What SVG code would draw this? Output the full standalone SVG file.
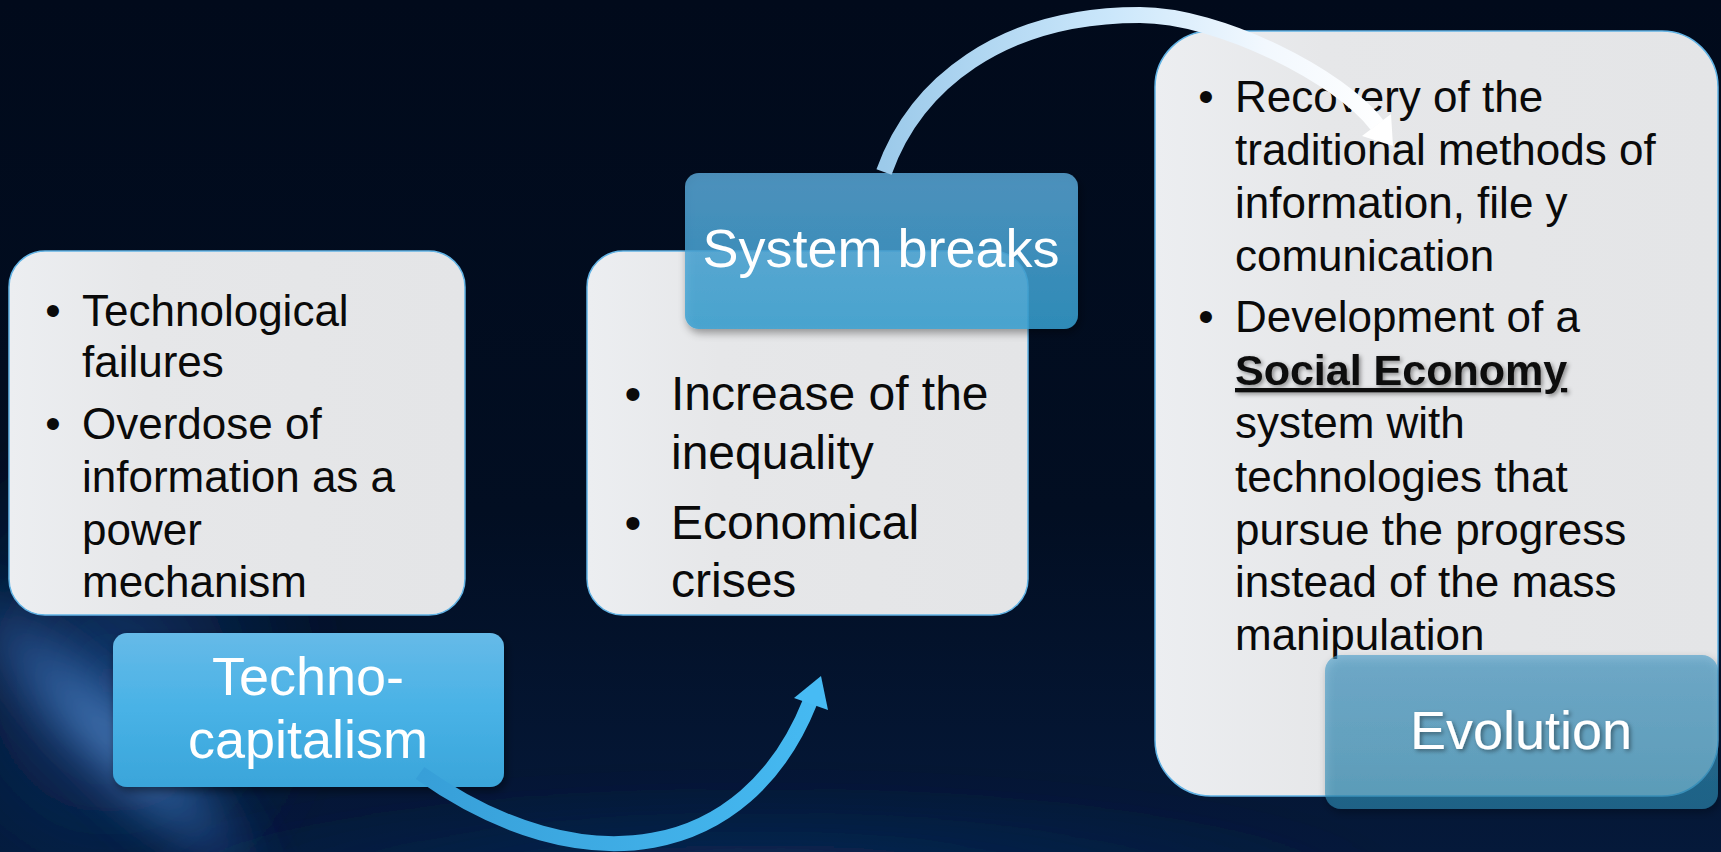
<svg xmlns="http://www.w3.org/2000/svg" width="1721" height="852" viewBox="0 0 1721 852">
<style>
.card{fill:url(#cardFill);stroke:#62b4e6;stroke-width:1.5}
.body{font-family:"Liberation Sans",Arial,sans-serif;fill:#0a0a0a}
.b44{font-size:44px}
.b48{font-size:48px}
.lbl{font-family:"Liberation Sans",Arial,sans-serif;font-size:54px;fill:#ffffff;text-anchor:middle}
.bul{text-anchor:middle}
</style>
<defs>
<linearGradient id="bg" x1="0" y1="0" x2="0" y2="1">
<stop offset="0" stop-color="#010a1b"/>
<stop offset="0.6" stop-color="#020e22"/>
<stop offset="1" stop-color="#05193a"/>
</linearGradient>
<radialGradient id="glow" cx="0.5" cy="0.5" r="0.5">
<stop offset="0" stop-color="#5a90d0" stop-opacity="0.85"/>
<stop offset="0.5" stop-color="#2d5fa3" stop-opacity="0.55"/>
<stop offset="1" stop-color="#0a2550" stop-opacity="0"/>
</radialGradient>
<radialGradient id="glow2" cx="0.5" cy="0.5" r="0.5">
<stop offset="0" stop-color="#163f7a" stop-opacity="0.85"/>
<stop offset="1" stop-color="#0a2550" stop-opacity="0"/>
</radialGradient>
<radialGradient id="glow3" cx="0.5" cy="0.5" r="0.5">
<stop offset="0" stop-color="#0e2f60" stop-opacity="0.8"/>
<stop offset="1" stop-color="#0a2550" stop-opacity="0"/>
</radialGradient>
<filter id="blur" x="-50%" y="-50%" width="200%" height="200%"><feGaussianBlur stdDeviation="18"/></filter>
<filter id="shadow" x="-10%" y="-10%" width="130%" height="140%"><feDropShadow dx="2" dy="4" stdDeviation="4" flood-color="#000" flood-opacity="0.45"/></filter>
<filter id="tshadow" x="-10%" y="-20%" width="130%" height="150%"><feDropShadow dx="2" dy="2" stdDeviation="2" flood-color="#000" flood-opacity="0.4"/></filter>
<linearGradient id="cardFill" x1="0" y1="0" x2="1" y2="0">
<stop offset="0" stop-color="#eceef1"/>
<stop offset="0.3" stop-color="#e6e7e9"/>
<stop offset="1" stop-color="#e4e5e7"/>
</linearGradient>
<linearGradient id="technoFill" x1="0" y1="0" x2="0" y2="1">
<stop offset="0" stop-color="#66bae8"/>
<stop offset="0.5" stop-color="#48b2e6"/>
<stop offset="1" stop-color="#3aa5da"/>
</linearGradient>
<linearGradient id="sysFill" x1="0" y1="0" x2="0" y2="1">
<stop offset="0" stop-color="#5aa8d8"/>
<stop offset="1" stop-color="#36a0d2"/>
</linearGradient>
<linearGradient id="evoFill" x1="0" y1="0" x2="0" y2="1">
<stop offset="0" stop-color="#469bc8"/>
<stop offset="1" stop-color="#2a87b0"/>
</linearGradient>
<linearGradient id="arrowBottom" gradientUnits="userSpaceOnUse" x1="420" y1="0" x2="830" y2="0">
<stop offset="0" stop-color="#379fd8"/>
<stop offset="1" stop-color="#46baf2"/>
</linearGradient>
<linearGradient id="arrowTop" gradientUnits="userSpaceOnUse" x1="884" y1="0" x2="1392" y2="0">
<stop offset="0" stop-color="#9ccaea"/>
<stop offset="0.45" stop-color="#cbe7fb"/>
<stop offset="0.75" stop-color="#f2f8fe"/>
<stop offset="1" stop-color="#ffffff"/>
</linearGradient>
</defs>

<g id="background">
<rect x="0" y="0" width="1721" height="852" fill="url(#bg)"/>
<ellipse cx="110" cy="680" rx="230" ry="260" fill="url(#glow2)" filter="url(#blur)"/>
<ellipse cx="110" cy="735" rx="260" ry="60" transform="rotate(45 110 735)" fill="url(#glow)" filter="url(#blur)"/>
<ellipse cx="760" cy="880" rx="650" ry="100" fill="url(#glow3)" filter="url(#blur)"/>
</g>

<g id="node-problems">
<rect class="card" x="9" y="251" width="456" height="364" rx="36"/>
<g class="body b44">
<text class="bul" x="53" y="326">•</text>
<text x="82" y="326">Technological</text>
<text x="82" y="377">failures</text>
<text class="bul" x="53" y="439">•</text>
<text x="82" y="439">Overdose of</text>
<text x="82" y="492">information as a</text>
<text x="82" y="545">power</text>
<text x="82" y="597">mechanism</text>
</g>
</g>

<g id="node-technocapitalism">
<rect x="113" y="633" width="391" height="154" rx="14" fill="url(#technoFill)" filter="url(#shadow)"/>
<text class="lbl" x="308" y="695">Techno-</text>
<text class="lbl" x="308" y="758">capitalism</text>
</g>

<g id="node-consequences">
<rect class="card" x="587" y="251" width="441" height="364" rx="36"/>
<g class="body b48">
<text class="bul" x="633" y="410">•</text>
<text x="671" y="410">Increase of the</text>
<text x="671" y="469">inequality</text>
<text class="bul" x="633" y="539">•</text>
<text x="671" y="539">Economical</text>
<text x="671" y="597">crises</text>
</g>
</g>

<g id="node-systembreaks">
<rect x="685" y="173" width="393" height="156" rx="14" fill="url(#sysFill)" fill-opacity="0.82" filter="url(#shadow)"/>
<text class="lbl" x="881" y="267" font-size="53">System breaks</text>
</g>

<g id="node-solutions">
<rect class="card" x="1155" y="31" width="563" height="765" rx="56"/>
<g class="body b44">
<text class="bul" x="1206" y="112">•</text>
<text x="1235" y="112">Recovery of the</text>
<text x="1235" y="165">traditional methods of</text>
<text x="1235" y="218">information, file y</text>
<text x="1235" y="271">comunication</text>
<text class="bul" x="1206" y="332">•</text>
<text x="1235" y="332">Development of a</text>
<text x="1235" y="385" font-size="43" font-weight="bold" text-decoration="underline" filter="url(#tshadow)">Social Economy</text>
<text x="1235" y="438">system with</text>
<text x="1235" y="492">technologies that</text>
<text x="1235" y="545">pursue the progress</text>
<text x="1235" y="597">instead of the mass</text>
<text x="1235" y="650">manipulation</text>
</g>
</g>

<g id="node-evolution">
<rect x="1325" y="655" width="393" height="154" rx="16" fill="url(#evoFill)" fill-opacity="0.62" filter="url(#shadow)"/>
<text class="lbl" x="1521" y="749" filter="url(#tshadow)">Evolution</text>
</g>

<g id="connectors">
<path d="M 420 773 C 584 889, 747 860, 810 702" fill="none" stroke="url(#arrowBottom)" stroke-width="15"/>
<polygon points="821,676 794,698 828,710" fill="#47bbf4"/>
<path d="M 884 172 C 915 85, 1000 15, 1140 15 C 1220 15, 1341 77, 1377 125" fill="none" stroke="url(#arrowTop)" stroke-width="16"/>
<polygon points="1393,146 1362,136 1391,114" fill="#ffffff"/>
</g>
</svg>
